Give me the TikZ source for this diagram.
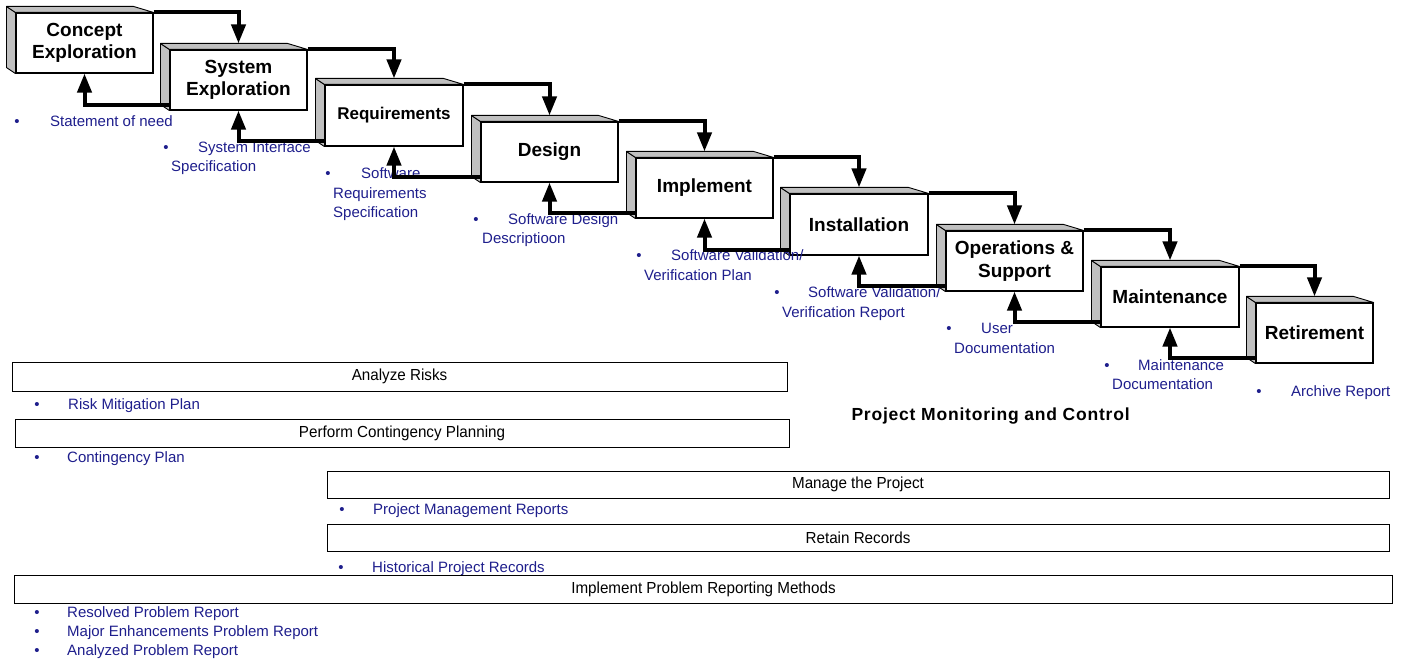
\documentclass[tikz,border=0pt]{standalone}
\usepackage{fontspec}
\setmainfont{Liberation Sans}
\newfontfamily\barfont[FakeStretch=0.95]{Liberation Sans}
\newfontfamily\titlefont[LetterSpace=4.5]{Liberation Sans}
\usetikzlibrary{arrows.meta}
\definecolor{itemblue}{RGB}{30,30,140}
\definecolor{facegray}{RGB}{192,192,192}

% gray left and top faces that give a stage box its 3D look
\newcommand\stagebevel[1]{%
  \filldraw[face] ([shift={(-9pt,6pt)}]#1.north west) -- (#1.north west)
    -- (#1.south west) -- ([shift={(-9pt,6pt)}]#1.south west) -- cycle;
  \filldraw[face] ([shift={(-9pt,6pt)}]#1.north west)
    -- ([shift={(-20pt,6pt)}]#1.north east) -- (#1.north east)
    -- (#1.north west) -- cycle;}

\begin{document}
\begin{tikzpicture}[x=1pt,y=-1pt,
  stagebox/.style={draw=black, line width=1.1pt, fill=white, inner sep=0pt,
    minimum width=137pt, minimum height=60pt, align=center,
    font=\fontsize{19}{22.5}\selectfont\bfseries},
  face/.style={fill=facegray, draw=black, line width=0.9pt, line join=round},
  flow/.style={line width=4pt, -{Triangle[length=19pt,width=14pt]}},
  barbox/.style={draw=black, line width=1pt, inner sep=0pt,
    font=\barfont\fontsize{16}{19}\selectfont},
  item/.style={text=itemblue, font=\fontsize{15}{18}\selectfont,
    inner sep=0pt, anchor=base west},
  dot/.style={item, anchor=base},
]
\useasboundingbox (0,0) rectangle (1408,660);

% ---- life-cycle stages ----
\node[stagebox] (s1) at (84.5,43)   {Concept\\Exploration};
\node[stagebox] (s2) at (238.5,80)  {System\\Exploration};
\node[stagebox, minimum width=138pt, minimum height=61pt,
      font=\fontsize{17}{20}\selectfont\bfseries] (s3) at (394,115.5) {Requirements};
\node[stagebox] (s4) at (549.5,152) {Design};
\node[stagebox] (s5) at (704.5,188) {Implement};
\node[stagebox, minimum width=138pt, minimum height=61pt] (s6) at (859,224.5) {Installation};
\node[stagebox] (s7) at (1014.5,261) {Operations \&\\Support};
\node[stagebox, minimum width=138pt] (s8) at (1170,297) {Maintenance};
\node[stagebox, minimum width=117pt] (s9) at (1314.5,333) {Retirement};
\foreach \s in {s1,s2,s3,s4,s5,s6,s7,s8,s9} {\stagebevel{\s}}

% ---- stage products ----
\node[dot]  (d1)  at (17,127)  {•};
\node[item] (t1)  at (50,127)  {Statement of need};
\node[dot]  (d2)  at (166,153) {•};
\node[item] (t2a) at (198,153) {System Interface};
\node[item] (t2b) at (171,172) {Specification};
\node[dot]  (d3)  at (328,179) {•};
\node[item] (t3a) at (361,179) {Software};
\node[item] (t3b) at (333,199) {Requirements};
\node[item] (t3c) at (333,218) {Specification};
\node[dot]  (d4)  at (476,225) {•};
\node[item] (t4a) at (508,225) {Software Design};
\node[item] (t4b) at (482,244) {Descriptioon};
\node[dot]  (d5)  at (639,261) {•};
\node[item] (t5a) at (671,261) {Software Validation/};
\node[item] (t5b) at (644,281) {Verification Plan};
\node[dot]  (d6)  at (777,298) {•};
\node[item] (t6a) at (808,298) {Software Validation/};
\node[item] (t6b) at (782,318) {Verification Report};
\node[dot]  (d7)  at (949,333) {•};
\node[item] (t7a) at (981,333) {User};
\node[item] (t7b) at (954,353) {Documentation};
\node[dot]  (d8)  at (1107,370) {•};
\node[item] (t8a) at (1138,370) {Maintenance};
\node[item] (t8b) at (1112,389) {Documentation};
\node[dot]  (d9)  at (1259,396) {•};
\node[item] (t9)  at (1291,396) {Archive Report};

% ---- forward flow and feedback between stages ----
\foreach \a/\b in {s1/s2,s2/s3,s3/s4,s4/s5,s5/s6,s6/s7,s7/s8,s8/s9} {
  \draw[flow] (\a.north east) -| ([yshift=6pt]\b.north);
  \draw[flow] ([yshift=6pt]\b.south west) -| (\a.south);
}

% ---- project monitoring and control activities ----
\node[anchor=base west, font=\titlefont\bfseries\fontsize{17.5}{20}\selectfont]
  (pmc) at (848,420) {Project Monitoring and Control};

\node[barbox, minimum width=775pt, minimum height=29pt] (risk) at (399.5,376.5) {Analyze Risks};
\node[dot]  (dr) at (37,409) {•};
\node[item] (tr) at (68,409) {Risk Mitigation Plan};

\node[barbox, minimum width=774pt, minimum height=28pt] (cont) at (402,433) {Perform Contingency Planning};
\node[dot]  (dc) at (37,462) {•};
\node[item] (tc) at (67,462) {Contingency Plan};

\node[barbox, minimum width=1062pt, minimum height=27pt] (mgmt) at (858,484.5) {Manage the Project};
\node[dot]  (dm) at (342,514) {•};
\node[item] (tm) at (373,514) {Project Management Reports};

\node[barbox, minimum width=1062pt, minimum height=27pt] (recs) at (858,537.5) {Retain Records};
\node[dot]  (dh) at (341,572) {•};
\node[item] (th) at (372,572) {Historical Project Records};

\node[barbox, minimum width=1378pt, minimum height=28pt] (prob) at (703.5,589) {Implement Problem Reporting Methods};
\node[dot]  (dp1) at (37,617) {•};
\node[item] (tp1) at (67,617) {Resolved Problem Report};
\node[dot]  (dp2) at (37,636) {•};
\node[item] (tp2) at (67,636) {Major Enhancements Problem Report};
\node[dot]  (dp3) at (37,655) {•};
\node[item] (tp3) at (67,655) {Analyzed Problem Report};
\end{tikzpicture}
\end{document}
